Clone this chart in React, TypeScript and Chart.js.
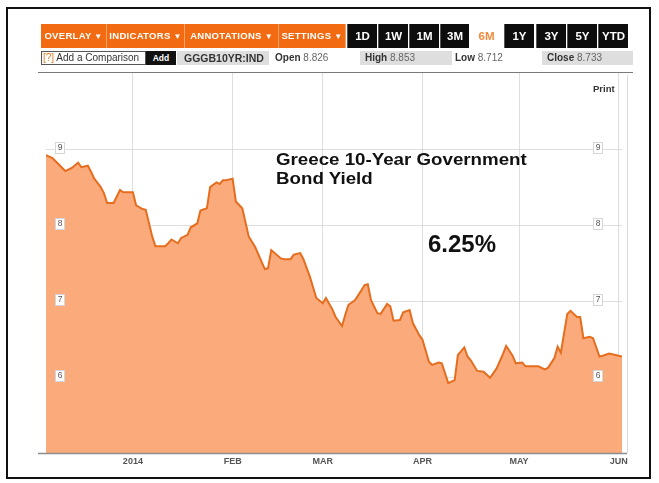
import React, { useEffect, useRef } from 'react';
import { Chart, registerables } from 'chart.js';

Chart.register(...registerables);

// ---------------- DATA ----------------
const pointDates = [
  '2013-12-05', '2013-12-07', '2013-12-11', '2013-12-13', '2013-12-15', '2013-12-16', '2013-12-18', '2013-12-19',
  '2013-12-20', '2013-12-22', '2013-12-23', '2013-12-24', '2013-12-26', '2013-12-28', '2013-12-29', '2014-01-01',
  '2014-01-02', '2014-01-04', '2014-01-05', '2014-01-07', '2014-01-08', '2014-01-11', '2014-01-12', '2014-01-13',
  '2014-01-15', '2014-01-16', '2014-01-18', '2014-01-19', '2014-01-21', '2014-01-22', '2014-01-24', '2014-01-25',
  '2014-01-27', '2014-01-28', '2014-01-29', '2014-01-30', '2014-02-01', '2014-02-02', '2014-02-04', '2014-02-06',
  '2014-02-07', '2014-02-08', '2014-02-11', '2014-02-12', '2014-02-13', '2014-02-16', '2014-02-17', '2014-02-19',
  '2014-02-20', '2014-02-22', '2014-02-23', '2014-02-25', '2014-02-27', '2014-03-01', '2014-03-02', '2014-03-04',
  '2014-03-05', '2014-03-07', '2014-03-08', '2014-03-09', '2014-03-11', '2014-03-13', '2014-03-14', '2014-03-15',
  '2014-03-16', '2014-03-18', '2014-03-19', '2014-03-21', '2014-03-22', '2014-03-23', '2014-03-25', '2014-03-26',
  '2014-03-28', '2014-03-29', '2014-03-31', '2014-04-01', '2014-04-03', '2014-04-04', '2014-04-06', '2014-04-07',
  '2014-04-09', '2014-04-11', '2014-04-12', '2014-04-14', '2014-04-15', '2014-04-16', '2014-04-18', '2014-04-20',
  '2014-04-22', '2014-04-24', '2014-04-26', '2014-04-27', '2014-04-29', '2014-04-30', '2014-05-02', '2014-05-03',
  '2014-05-07', '2014-05-09', '2014-05-10', '2014-05-12', '2014-05-13', '2014-05-14', '2014-05-16', '2014-05-17',
  '2014-05-19', '2014-05-20', '2014-05-21', '2014-05-23', '2014-05-24', '2014-05-26', '2014-05-27', '2014-05-29',
  '2014-05-31', '2014-06-02',
];

const yieldValues = [
  8.92, 8.88, 8.71, 8.75, 8.82, 8.76, 8.78, 8.70,
  8.61, 8.50, 8.42, 8.29, 8.29, 8.46, 8.43, 8.43,
  8.26, 8.21, 8.20, 7.85, 7.72, 7.72, 7.76, 7.81,
  7.76, 7.83, 7.87, 7.97, 8.02, 8.19, 8.22, 8.50,
  8.56, 8.54, 8.59, 8.59, 8.61, 8.31, 8.22, 7.85,
  7.78, 7.71, 7.42, 7.43, 7.67, 7.56, 7.55, 7.55,
  7.61, 7.63, 7.55, 7.32, 7.04, 6.97, 7.04, 6.89,
  6.79, 6.67, 6.82, 6.95, 7.01, 7.14, 7.21, 7.22,
  7.01, 6.84, 6.83, 6.96, 6.93, 6.74, 6.75, 6.85,
  6.88, 6.71, 6.55, 6.49, 6.20, 6.16, 6.19, 6.18,
  5.92, 5.96, 6.29, 6.39, 6.27, 6.22, 6.08, 6.07,
  5.99, 6.11, 6.30, 6.41, 6.28, 6.18, 6.19, 6.14,
  6.14, 6.10, 6.12, 6.25, 6.40, 6.32, 6.83, 6.87,
  6.79, 6.79, 6.51, 6.53, 6.51, 6.27, 6.28, 6.31,
  6.29, 6.27,
];

const monthTickDates = ['2014-01-01', '2014-02-01', '2014-03-01', '2014-04-01', '2014-05-01', '2014-06-01'];
const monthTickLabels = ['2014', 'FEB', 'MAR', 'APR', 'MAY', 'JUN'];
const xRangeDates = ['2013-12-05', '2014-06-02'];
const yTickValues = [6, 7, 8, 9];
const yTickLabels = ['6', '7', '8', '9'];
const yRange = [5, 10];

const menuButtons = ['OVERLAY', 'INDICATORS', 'ANNOTATIONS', 'SETTINGS'];
const rangeButtons = ['1D', '1W', '1M', '3M', '6M', '1Y', '3Y', '5Y', 'YTD'];
const activeRange = '6M';
const tickerSymbol = 'GGGB10YR:IND';
const statLabels = ['Open', 'High', 'Low', 'Close'];
const statValues = ['8.826', '8.853', '8.712', '8.733'];
const chartTitleLines = ['Greece 10-Year Government', 'Bond Yield'];
const headlineValue = '6.25%';

// ---------------- LAYOUT (styles only) ----------------
const FONT = "'Liberation Sans', Arial, Helvetica, sans-serif";
const menuLayout = [
  { left: 41, width: 65 },
  { left: 107, width: 77 },
  { left: 185, width: 93 },
  { left: 279, width: 66 },
];
const rangeLayout = [
  { left: 347, width: 30 },
  { left: 378, width: 30 },
  { left: 409, width: 30 },
  { left: 440, width: 29 },
  { left: 470, width: 33 },
  { left: 504, width: 30 },
  { left: 536, width: 30 },
  { left: 567, width: 30 },
  { left: 598, width: 30 },
];
const statLayout = [
  { left: 275, boxLeft: null as number | null, boxWidth: 0 },
  { left: 365, boxLeft: 360, boxWidth: 92 },
  { left: 455, boxLeft: null as number | null, boxWidth: 0 },
  { left: 547, boxLeft: 542, boxWidth: 91 },
];

const DAY = 86400000;
const EPOCH = Date.UTC(2014, 0, 1);
const toDay = (s: string) => {
  const [y, m, d] = s.split('-').map(Number);
  return (Date.UTC(y, m - 1, d) - EPOCH) / DAY;
};

const overlayPlugin = {
  id: 'bbgOverlay',
  afterDraw(chart: any) {
    const { ctx, chartArea: a, scales } = chart;
    const ys = scales.y;
    ctx.save();
    // right frame line
    ctx.strokeStyle = '#d9d9d9';
    ctx.lineWidth = 1;
    ctx.beginPath();
    ctx.moveTo(a.right + 5.5, a.top + 2);
    ctx.lineTo(a.right + 5.5, a.bottom);
    ctx.stroke();
    // bottom axis line
    ctx.strokeStyle = '#8c8c8c';
    ctx.lineWidth = 1.5;
    ctx.beginPath();
    ctx.moveTo(a.left - 8, a.bottom + 0.5);
    ctx.lineTo(a.right + 5, a.bottom + 0.5);
    ctx.stroke();
    // boxed y labels on both sides
    ctx.font = `8.5px ${FONT}`;
    ctx.textAlign = 'center';
    ctx.textBaseline = 'middle';
    yTickValues.forEach((v, i) => {
      const py = Math.round(ys.getPixelForValue(v));
      [a.left + 14, a.right - 24].forEach((cx) => {
        const w = 10;
        const h = 12;
        ctx.fillStyle = '#ffffff';
        ctx.fillRect(cx - w / 2, py - h / 2 - 1, w, h);
        ctx.strokeStyle = '#d6d6d6';
        ctx.lineWidth = 1;
        ctx.strokeRect(Math.round(cx - w / 2) + 0.5, py - h / 2 - 0.5, w - 1, h - 1);
        ctx.fillStyle = '#555555';
        ctx.fillText(yTickLabels[i], cx, py - 1);
      });
    });
    ctx.restore();
  },
};

function ChartCanvas() {
  const ref = useRef<HTMLCanvasElement | null>(null);
  useEffect(() => {
    if (!ref.current) return;
    const data = pointDates.map((d, i) => ({ x: toDay(d), y: yieldValues[i] }));
    const chart = new Chart(ref.current, {
      type: 'line',
      data: {
        datasets: [
          {
            data,
            borderColor: '#e56d1f',
            borderWidth: 2,
            backgroundColor: '#fbab7b',
            fill: 'start',
            pointRadius: 0,
            tension: 0,
          },
        ],
      },
      options: {
        animation: false,
        responsive: false,
        events: [],
        layout: { padding: { left: 46, right: 37, top: 73, bottom: 0 } },
        plugins: { legend: { display: false }, tooltip: { enabled: false } },
        scales: {
          x: {
            type: 'linear',
            min: toDay(xRangeDates[0]),
            max: toDay(xRangeDates[1]),
            z: 1,
            afterBuildTicks: (s: any) => {
              s.ticks = monthTickDates.map((d) => ({ value: toDay(d) }));
            },
            afterFit: (s: any) => {
              s.height = 30;
            },
            grid: { color: 'rgba(200,200,200,0.6)', lineWidth: 1, drawTicks: false },
            border: { display: false },
            ticks: {
              autoSkip: false,
              maxRotation: 0,
              padding: 3,
              color: '#555555',
              font: { family: FONT, size: 9, weight: 'bold' },
              callback: (_v: any, i: number) => monthTickLabels[i],
            },
          },
          y: {
            type: 'linear',
            min: yRange[0],
            max: yRange[1],
            z: 1,
            afterBuildTicks: (s: any) => {
              s.ticks = yTickValues.map((v) => ({ value: v }));
            },
            afterFit: (s: any) => {
              s.width = 0;
            },
            grid: { color: 'rgba(200,200,200,0.6)', lineWidth: 1, drawTicks: false },
            border: { display: false },
            ticks: { display: false },
          },
        },
      },
      plugins: [overlayPlugin],
    } as any);
    return () => chart.destroy();
  }, []);
  return (
    <canvas
      ref={ref}
      width={659}
      height={483}
      style={{ position: 'absolute', left: 0, top: 0, width: 659, height: 483 }}
    />
  );
}

export default function App() {
  const abs = (o: any) => ({ position: 'absolute' as const, ...o });
  return (
    <div style={abs({ left: 0, top: 0, width: 659, height: 483, background: '#fff', overflow: 'hidden', fontFamily: FONT })}>
      <ChartCanvas />
      {/* outer frame */}
      <div style={abs({ left: 6, top: 7, width: 645, height: 472, border: '2px solid #111', boxSizing: 'border-box', pointerEvents: 'none' })} />
      {/* menu buttons */}
      <div style={abs({ left: 41, top: 24, width: 305, height: 24, background: '#f7a367' })} />
      {menuButtons.map((b, i) => (
        <div
          key={b}
          style={abs({
            left: menuLayout[i].left, top: 24, width: menuLayout[i].width, height: 24,
            background: '#f26b12', color: '#fff', fontWeight: 'bold', fontSize: 9.5,
            lineHeight: '24px', textAlign: 'center', whiteSpace: 'nowrap', letterSpacing: '0.3px',
          })}
        >
          {b} <span style={{ fontSize: 8 }}>▼</span>
        </div>
      ))}
      {rangeButtons.map((b, i) => {
        const active = b === activeRange;
        return (
          <div
            key={b}
            style={abs({
              left: rangeLayout[i].left, top: 24, width: rangeLayout[i].width, height: 24,
              background: active ? '#fff' : '#0d0d0d', color: active ? '#f08a3c' : '#fff',
              fontWeight: 'bold', fontSize: 11.5, lineHeight: '24px', textAlign: 'center',
              borderLeft: active ? 'none' : '1px solid #555', boxSizing: 'border-box',
            })}
          >
            {b}
          </div>
        );
      })}
      {/* second row */}
      <div style={abs({ left: 41, top: 51, width: 105, height: 14, border: '1px solid #555', boxSizing: 'border-box', background: '#fff', fontSize: 10, lineHeight: '12px', paddingLeft: 1, color: '#333', whiteSpace: 'nowrap', overflow: 'hidden' })}>
        <span style={{ color: '#e07b25' }}>[?]</span> Add a Comparison
      </div>
      <div style={abs({ left: 146, top: 51, width: 30, height: 14, background: '#111', color: '#fff', fontWeight: 'bold', fontSize: 8.5, lineHeight: '14px', textAlign: 'center' })}>Add</div>
      <div style={abs({ left: 177, top: 51, width: 92, height: 14, background: '#dedede', color: '#333', fontWeight: 'bold', fontSize: 10.5, lineHeight: '14px', paddingLeft: 7, boxSizing: 'border-box', whiteSpace: 'nowrap' })}>{tickerSymbol}</div>
      {statLabels.map((l, i) => (
        <React.Fragment key={l}>
          {statLayout[i].boxLeft !== null && (
            <div style={abs({ left: statLayout[i].boxLeft, top: 51, width: statLayout[i].boxWidth, height: 14, background: '#dedede' })} />
          )}
          <div style={abs({ left: statLayout[i].left, top: 51, height: 14, fontSize: 10, lineHeight: '14px', whiteSpace: 'nowrap' })}>
            <span style={{ fontWeight: 'bold', color: '#333' }}>{l}</span>{' '}
            <span style={{ color: '#666' }}>{statValues[i]}</span>
          </div>
        </React.Fragment>
      ))}
      <div style={abs({ left: 38, top: 72, width: 595, height: 1, background: '#7a7a7a' })} />
      {/* Print */}
      <div style={abs({ left: 593, top: 83, fontSize: 9.5, fontWeight: 'bold', color: '#333', lineHeight: '12px' })}>Print</div>
      {/* title annotations */}
      <div style={abs({ left: 276, top: 150, fontSize: 16, fontWeight: 'bold', color: '#111', lineHeight: '19px', whiteSpace: 'nowrap', transform: 'scaleX(1.17)', transformOrigin: 'left top' })}>
        {chartTitleLines[0]}
        <br />
        {chartTitleLines[1]}
      </div>
      <div style={abs({ left: 428, top: 232, fontSize: 24, fontWeight: 'bold', color: '#111', lineHeight: '24px', whiteSpace: 'nowrap' })}>{headlineValue}</div>
    </div>
  );
}
